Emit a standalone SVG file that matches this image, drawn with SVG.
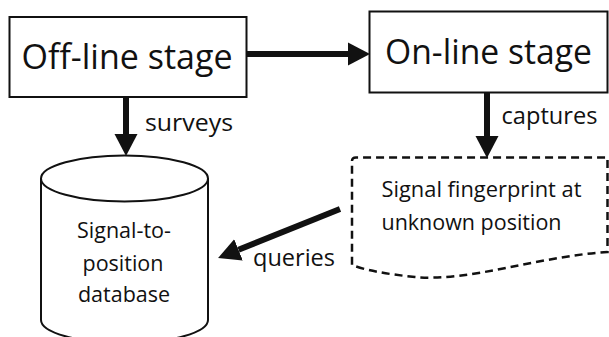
<svg xmlns="http://www.w3.org/2000/svg" width="609" height="337" viewBox="0 0 609 337">
<style>
.box{fill:#fff;stroke:#111;stroke-width:2}
.t{font-family:"Open Sans","Liberation Sans",sans-serif;fill:#111}
.big{font-size:34px}
.lbl{font-size:24px}
.sm{font-size:21.5px}
.conn{stroke:#111;stroke-width:6;fill:none}
</style>
<defs>
<marker id="ah" viewBox="0 -12 22 24" refX="0" refY="0" markerWidth="22" markerHeight="24" markerUnits="userSpaceOnUse" orient="auto">
<path d="M0,-11.5 L22,0 L0,11.5 Z" fill="#111"/>
</marker>
</defs>
<rect width="609" height="337" fill="#fff"/>
<g id="offline">
<rect class="box" x="9.5" y="17" width="237" height="80"/>
<text class="t big" x="21.5" y="69" textLength="211" lengthAdjust="spacingAndGlyphs">Off-line stage</text>
</g>
<g id="online">
<rect class="box" x="369.5" y="11.5" width="238" height="81"/>
<text class="t big" x="385" y="64" textLength="207" lengthAdjust="spacingAndGlyphs">On-line stage</text>
</g>
<g id="database">
<path class="box" d="M41,178 L41,320 A83.5,23 0 0 0 208,320 L208,178"/>
<ellipse class="box" cx="124.5" cy="178.5" rx="83.5" ry="23"/>
<text class="t" style="font-size:21.5px" text-anchor="middle" x="124" y="238">Signal-to-</text>
<text class="t" style="font-size:21.5px" text-anchor="middle" x="123" y="271">position</text>
<text class="t" style="font-size:21.5px" text-anchor="middle" x="124" y="302">database</text>
</g>
<g id="fingerprint">
<path d="M352,161 Q352,157.5 356,157.5 L607.5,157.5 L607.5,252 C540,256 470,282 415,277 C385,274 365,270 352,265 Z" fill="#fff" stroke="#111" stroke-width="2.5" stroke-dasharray="8,5"/>
<text class="t sm" x="381.5" y="197" textLength="200" lengthAdjust="spacingAndGlyphs">Signal fingerprint at</text>
<text class="t sm" x="381.5" y="230" textLength="180" lengthAdjust="spacingAndGlyphs">unknown position</text>
</g>
<g id="connectors">
<line class="conn" x1="246" y1="54" x2="348" y2="54" marker-end="url(#ah)"/>
<line class="conn" x1="126" y1="97" x2="126" y2="134" marker-end="url(#ah)"/>
<line class="conn" x1="487" y1="93" x2="487" y2="136" marker-end="url(#ah)"/>
<line class="conn" x1="340" y1="209" x2="238.5" y2="249.8" marker-end="url(#ah)"/>
<text class="t lbl" x="145" y="131" textLength="88" lengthAdjust="spacingAndGlyphs">surveys</text>
<text class="t lbl" x="501.5" y="124" textLength="96" lengthAdjust="spacingAndGlyphs">captures</text>
<text class="t lbl" x="253" y="266" textLength="82" lengthAdjust="spacingAndGlyphs">queries</text>
</g>
</svg>
